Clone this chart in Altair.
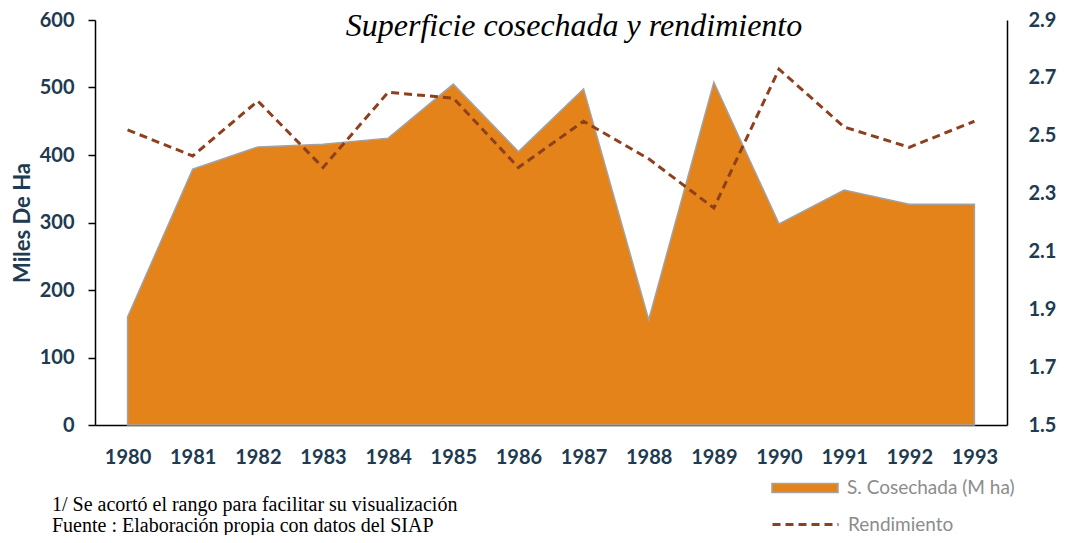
import altair as alt
import pandas as pd

years = [1980, 1981, 1982, 1983, 1984, 1985, 1986, 1987, 1988, 1989, 1990, 1991, 1992, 1993]
superficie = [160, 379, 412, 416, 425, 505, 405, 498, 156, 508, 298, 348, 327, 327]
rendimiento = [2.52, 2.43, 2.62, 2.39, 2.65, 2.63, 2.39, 2.55, 2.42, 2.25, 2.73, 2.53, 2.46, 2.55]
left_ticks = [0, 100, 200, 300, 400, 500, 600]
right_ticks = [1.5, 1.7, 1.9, 2.1, 2.3, 2.5, 2.7, 2.9]
area_name = "S. Cosechada (M ha)"
line_name = "Rendimiento"
title_text = ["Superficie cosechada y rendimiento"]
notes = ["1/ Se acortó el rango para facilitar su visualización",
         "Fuente : Elaboración propia con datos del SIAP"]

df = pd.DataFrame({
    "year": [str(y) for y in years],
    "superficie": superficie,
    "rendimiento": rendimiento,
    "s_area": [area_name] * len(years),
    "s_line": [line_name] * len(years),
})

DARK = "#203A50"
ORANGE = "#E3831A"
BROWN = "#8E401E"
GRAY_STROKE = "#A3A3A3"

x_enc = alt.X(
    "year:O",
    scale=alt.Scale(type="point", padding=0.5),
    axis=alt.Axis(
        title=None, labelAngle=0, ticks=False, tickSize=0, domainColor="black",
        domainWidth=1.5, labelFont="Lato", labelFontSize=20, labelFontWeight="bold",
        labelColor=DARK, labelPadding=22, grid=False,
    ),
)

base = alt.Chart(df).encode(x=x_enc)

area = base.mark_area(stroke=GRAY_STROKE, strokeWidth=1.5, opacity=1).encode(
    y=alt.Y(
        "superficie:Q",
        scale=alt.Scale(domain=[0, 600], nice=False, zero=True),
        axis=alt.Axis(
            values=left_ticks, title="Miles De Ha", grid=False, domainColor="black",
            domainWidth=1.5, tickColor="black", tickSize=7, tickWidth=1.5,
            labelFont="Lato", labelFontSize=20, labelFontWeight="bold", labelColor=DARK,
            labelPadding=14, titleFont="Lato", titleFontSize=22, titleFontWeight="bold",
            titleColor=DARK, titlePadding=5,
        ),
    ),
    fill=alt.Fill(
        "s_area:N",
        scale=alt.Scale(domain=[area_name], range=[ORANGE]),
        legend=alt.Legend(
            title=None, orient="none", legendX=676, legendY=434, padding=0,
            symbolType="M-1,-0.14H1V0.14H-1Z", symbolSize=4356,
            symbolStrokeColor=GRAY_STROKE, symbolStrokeWidth=1.5, symbolOpacity=1,
            labelFont="Lato", labelFontSize=19, labelColor="#8C8C8C", labelOffset=8,
            labelLimit=400,
        ),
    ),
)

line = base.mark_line(strokeDash=[8, 5], strokeWidth=3).encode(
    y=alt.Y(
        "rendimiento:Q",
        scale=alt.Scale(domain=[1.5, 2.9], nice=False, zero=False),
        axis=alt.Axis(
            orient="right", values=right_ticks, format=".1f", title=None, grid=False,
            domainColor="black", domainWidth=1.5, ticks=False, tickSize=0,
            labelFont="Lato", labelFontSize=20, labelFontWeight="bold", labelColor=DARK,
            labelPadding=21,
        ),
    ),
    stroke=alt.Stroke(
        "s_line:N",
        scale=alt.Scale(domain=[line_name], range=[BROWN]),
        legend=alt.Legend(
            title=None, orient="none", legendX=676, legendY=470, padding=0,
            symbolType="stroke", symbolSize=4356, symbolDash=[8, 5],
            symbolStrokeWidth=3, labelFont="Lato", labelFontSize=19,
            labelColor="#8C8C8C", labelOffset=8, labelLimit=400,
        ),
    ),
)

notes_df = pd.DataFrame({"note": notes, "idx": [0, 1]})
notes_layer = alt.Chart(notes_df).mark_text(
    font="Liberation Serif", fontSize=20, align="left", baseline="alphabetic", color="black"
).encode(
    text="note:N",
    x=alt.value(-43),
    y=alt.Y("idx:O", scale=alt.Scale(type="point", domain=[0, 1], range=[491, 512], padding=0), axis=None),
)

title_df = pd.DataFrame({"t": title_text})
title_layer = alt.Chart(title_df).mark_text(
    font="Liberation Serif", fontSize=32, fontStyle="italic", align="center",
    baseline="alphabetic", color="black"
).encode(text="t:N", x=alt.value(479), y=alt.value(16))

chart = (
    alt.layer(area, line, notes_layer, title_layer)
    .resolve_scale(y="independent", fill="independent", stroke="independent")
    .properties(
        width=912,
        height=405,
        padding={"left": 87, "top": 12, "right": 64, "bottom": 110},
        autosize=alt.AutoSizeParams(type="none"),
    )
    .configure_view(stroke=None)
)

chart.save("out.html", embed_options={"renderer": "svg", "actions": False})
